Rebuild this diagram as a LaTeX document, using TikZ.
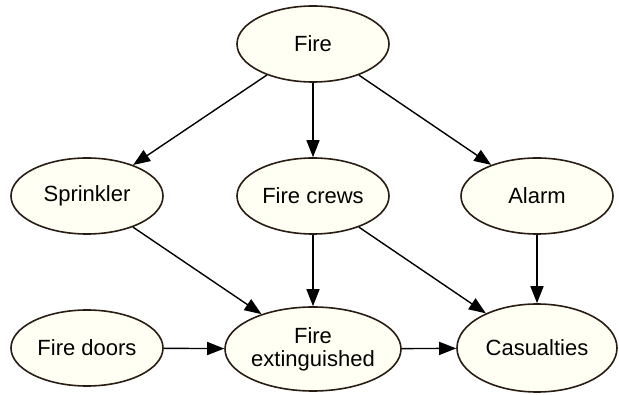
\documentclass[tikz,border=0pt]{standalone}
\usepackage{fontspec}
\setmainfont{Liberation Sans}
\usetikzlibrary{shapes.geometric,arrows.meta}
\definecolor{nodefill}{RGB}{255,255,243}
\definecolor{nodeline}{RGB}{40,28,20}
\tikzset{
  var/.style={ellipse, draw=nodeline, fill=nodefill, line width=1.6pt,
    inner sep=0pt, minimum width=152pt, minimum height=76pt,
    font=\fontsize{22}{25}\selectfont, align=center},
  link/.style={line width=1.4pt, draw=black,
    -{Triangle[length=17pt,width=13pt]}}
}
\begin{document}
\begin{tikzpicture}[x=1pt,y=-1pt]
  \useasboundingbox (0,0) rectangle (619,395);
  \node[var] (fire) at (313,44) {Fire};
  \node[var] (spr) at (87,196) {Sprinkler};
  \node[var] (crews) at (313,196) {Fire crews};
  \node[var] (alarm) at (537,196) {Alarm};
  \node[var] (doors) at (87,348) {Fire doors};
  \node[var, minimum width=176pt, minimum height=84pt] (ext) at (313,349) {Fire\\[-2pt]extinguished};
  \node[var, minimum width=160pt, minimum height=88pt] (cas) at (537,348) {Casualties};

  \draw[link] (fire) -- (spr);
  \draw[link] (fire) -- (crews);
  \draw[link] (fire) -- (alarm);
  \draw[link] (spr) -- (ext);
  \draw[link] (crews) -- (ext);
  \draw[link] (crews) -- (cas);
  \draw[link] (alarm) -- (cas);
  \draw[link] (doors) -- (ext);
  \draw[link] (ext) -- (cas);
\end{tikzpicture}
\end{document}
